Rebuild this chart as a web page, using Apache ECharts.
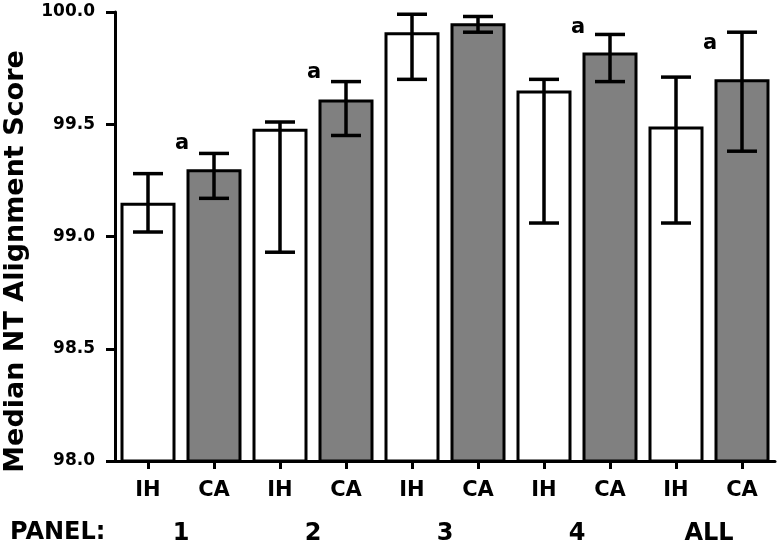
<!DOCTYPE html>
<html>
<head>
<meta charset="utf-8">
<script src="https://cdn.jsdelivr.net/npm/echarts@6/dist/echarts.min.js"></script>
<style>
html,body{margin:0;padding:0;background:#fff;}
#chart{width:778px;height:547px;}
</style>
</head>
<body>
<div id="chart"></div>
<script>
// ---- data ----
var panels = ['1', '2', '3', '4', 'ALL'];
var groupLabels = ['IH', 'CA'];
var ihValues = [99.15, 99.48, 99.91, 99.65, 99.49];
var ihLow    = [99.02, 98.93, 99.70, 99.06, 99.06];
var ihHigh   = [99.28, 99.51, 99.99, 99.70, 99.71];
var caValues = [99.30, 99.61, 99.95, 99.82, 99.70];
var caLow    = [99.17, 99.45, 99.91, 99.69, 99.38];
var caHigh   = [99.37, 99.69, 99.98, 99.90, 99.91];
// significance marks "a": panel index and vertical level (data units)
var sigPanels = [0, 1, 3, 4];
var sigLevels = [99.415, 99.73, 99.93, 99.86];
var yTicks = { min: 98.0, max: 100.0, step: 0.5 };

// ---- build library structures ----
var FONT = 'DejaVu Sans';
var categories = [];
var barData = [];
var errData = [];
for (var i = 0; i < panels.length; i++) {
  categories.push(groupLabels[0], groupLabels[1]);
  barData.push({ value: ihValues[i], itemStyle: { color: '#ffffff' } });
  barData.push({ value: caValues[i], itemStyle: { color: '#808080' } });
  errData.push([2 * i, ihLow[i], ihHigh[i]]);
  errData.push([2 * i + 1, caLow[i], caHigh[i]]);
}
var sigData = sigPanels.map(function (p, k) { return [2 * p + 1, sigLevels[k]]; });

var chart = echarts.init(document.getElementById('chart'), null, { renderer: 'canvas' });
chart.setOption({
  animation: false,
  backgroundColor: '#ffffff',
  grid: { left: 115, right: 3, top: 12, bottom: 86, containLabel: false, outerBoundsMode: 'none' },
  xAxis: [{
    type: 'category',
    data: categories,
    position: 'bottom',
    axisLine: { show: true, lineStyle: { color: '#000', width: 3 } },
    axisTick: { show: true, alignWithLabel: true, length: 8, lineStyle: { color: '#000', width: 3 } },
    axisLabel: { color: '#000', fontFamily: FONT, fontWeight: 'bold', fontSize: 21, margin: 19 }
  }, {
    type: 'category',
    data: panels,
    position: 'bottom',
    axisLine: { show: false },
    axisTick: { show: false },
    axisLabel: { color: '#000', fontFamily: FONT, fontWeight: 'bold', fontSize: 24, margin: 61 }
  }],
  yAxis: {
    type: 'value',
    min: yTicks.min,
    max: yTicks.max,
    interval: yTicks.step,
    name: 'Median NT Alignment Score',
    nameLocation: 'middle',
    nameGap: 86,
    nameTextStyle: { color: '#000', fontFamily: FONT, fontWeight: 'bold', fontSize: 27, padding: [0, 50, 0, 0] },
    axisLine: { show: true, lineStyle: { color: '#000', width: 3 } },
    axisTick: { show: true, length: 9, lineStyle: { color: '#000', width: 3 } },
    splitLine: { show: false },
    axisLabel: {
      color: '#000', fontFamily: FONT, fontWeight: 'bold', fontSize: 17, margin: 20,
      formatter: function (v) { return v.toFixed(1); }
    }
  },
  graphic: [{
    type: 'text',
    left: 10,
    top: 521,
    style: { text: 'PANEL:', fill: '#000', font: 'bold 24px "DejaVu Sans"' }
  }],
  series: [{
    type: 'bar',
    data: barData,
    barWidth: 55,
    itemStyle: { borderColor: '#000', borderWidth: 3 },
    z: 2
  }, {
    type: 'custom',
    data: errData,
    encode: { x: 0, y: [1, 2] },
    z: 5,
    renderItem: function (params, api) {
      var x = api.value(0);
      var top = api.coord([x, api.value(2)]);
      var bot = api.coord([x, api.value(1)]);
      var half = 15;
      var st = { stroke: '#000', lineWidth: 3.5 };
      return {
        type: 'group',
        children: [
          { type: 'line', shape: { x1: top[0], y1: top[1], x2: bot[0], y2: bot[1] }, style: st },
          { type: 'line', shape: { x1: top[0] - half, y1: top[1], x2: top[0] + half, y2: top[1] }, style: st },
          { type: 'line', shape: { x1: bot[0] - half, y1: bot[1], x2: bot[0] + half, y2: bot[1] }, style: st }
        ]
      };
    }
  }, {
    type: 'scatter',
    data: sigData,
    symbolSize: 0,
    z: 6,
    itemStyle: { opacity: 1 },
    label: {
      show: true,
      position: 'inside',
      offset: [-32, 0],
      formatter: 'a',
      color: '#000',
      opacity: 1,
      fontFamily: FONT,
      fontWeight: 'bold',
      fontSize: 21
    }
  }]
});
</script>
</body>
</html>
